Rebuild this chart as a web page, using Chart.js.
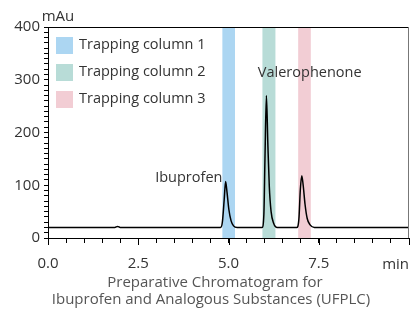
<!DOCTYPE html>
<html>
<head>
<meta charset="utf-8">
<script src="https://cdn.jsdelivr.net/npm/chart.js@4"></script>
<style>
  html, body { margin: 0; padding: 0; background: #fff; }
  #wrap { width: 411px; height: 311px; }
</style>
</head>
<body>
<div id="wrap"><canvas id="chart" width="411" height="311"></canvas></div>
<script>
/* ---- data ---- */
const times = [0, 1.85, 1.93, 2.0, 4.78, 4.83, 4.88, 4.92, 4.96, 5.01, 5.07, 5.14, 5.24, 5.93, 5.98, 6.01, 6.05, 6.09, 6.13, 6.18, 6.25, 6.35, 6.89, 6.95, 6.99, 7.03, 7.07, 7.12, 7.18, 7.26, 7.38, 10];
const mAu   = [20, 20, 22, 20, 20, 30, 72, 107, 86, 54, 33, 23, 20, 20, 45, 150, 270, 178, 98, 50, 28, 20, 20, 36, 92, 118, 99, 64, 37, 25, 20, 20];

const bandLabels = ["Trapping column 1", "Trapping column 2", "Trapping column 3"];
const bandStart  = [4.83, 5.94, 6.93];
const bandEnd    = [5.18, 6.30, 7.28];
const bandColors = ["#acd6f2", "#b8dcd7", "#f2cdd4"];

const peakNames = ["Ibuprofen", "Valerophenone"];
const peakLabelX = [3.9, 7.25];
const peakLabelY = [114, 313];

const xTitle = ["Preparative Chromatogram for", "Ibuprofen and Analogous Substances (UFPLC)"];

const FONT = "'Open Sans', 'Noto Sans', sans-serif";

/* ---- extra drawing: bands, legend, labels, frame ---- */
const decor = {
  id: "decor",
  beforeDatasetsDraw(chart) {
    const { ctx, chartArea: a, scales: { x } } = chart;
    ctx.save();
    bandStart.forEach((s, i) => {
      const x0 = x.getPixelForValue(s);
      const x1 = x.getPixelForValue(bandEnd[i]);
      ctx.fillStyle = bandColors[i];
      ctx.fillRect(x0, a.top, x1 - x0, a.bottom - a.top);
    });
    ctx.restore();
  },
  afterDraw(chart) {
    const { ctx, chartArea: a, scales: { x, y } } = chart;
    ctx.save();
    // frame top + right
    ctx.strokeStyle = "#000";
    ctx.lineWidth = 1;
    ctx.beginPath();
    ctx.moveTo(a.left, a.top + 0.5);
    ctx.lineTo(a.right, a.top + 0.5);
    ctx.stroke();
    ctx.strokeStyle = "#777";
    ctx.beginPath();
    ctx.moveTo(a.right - 0.5, a.top);
    ctx.lineTo(a.right - 0.5, a.bottom);
    ctx.stroke();

    // longer major ticks on x
    ctx.strokeStyle = "#000";
    x.ticks.forEach(t => {
      if (t.value % 2.5 !== 0) return;
      const px = Math.round(x.getPixelForValue(t.value)) + 0.5;
      ctx.beginPath();
      ctx.moveTo(px, a.bottom);
      ctx.lineTo(px, a.bottom + 7);
      ctx.stroke();
    });

    // legend
    ctx.font = "14.5px " + FONT;
    ctx.textBaseline = "middle";
    ctx.textAlign = "left";
    bandLabels.forEach((lab, i) => {
      const cy = a.top + 18 + i * 27;
      ctx.fillStyle = bandColors[i];
      ctx.fillRect(a.left + 8, cy - 8, 17, 17);
      ctx.fillStyle = "#333";
      ctx.fillText(lab, a.left + 31, cy);
    });

    // peak names
    ctx.textAlign = "center";
    peakNames.forEach((n, i) => {
      ctx.fillText(n, x.getPixelForValue(peakLabelX[i]), y.getPixelForValue(peakLabelY[i]));
    });

    // unit labels
    ctx.font = "15px " + FONT;
    ctx.fillText("mAu", a.left + 10, a.top - 10);
    ctx.textAlign = "right";
    ctx.fillText("min", a.right, 265);

    // axis title
    ctx.fillStyle = "#555";
    ctx.textAlign = "center";
    ctx.fillText(xTitle[0], 215, 283);
    ctx.fillText(xTitle[1], 211, 300);
    ctx.restore();
  }
};

new Chart(document.getElementById("chart"), {
  type: "line",
  data: {
    datasets: [{
      data: times.map((t, i) => ({ x: t, y: mAu[i] })),
      borderColor: "#000",
      borderWidth: 1.5,
      pointRadius: 0,
      cubicInterpolationMode: "monotone",
      fill: false
    }]
  },
  options: {
    responsive: false,
    animation: false,
    layout: { padding: { top: 27, right: 2, left: 0, bottom: 0 } },
    plugins: { legend: { display: false }, tooltip: { enabled: false } },
    scales: {
      x: {
        type: "linear",
        min: 0,
        max: 10,
        afterFit: s => { s.height = 73; s.paddingLeft = 0; s.paddingRight = 0; },
        border: { color: "#000", width: 1 },
        grid: { drawOnChartArea: false, tickLength: 5, tickColor: "#000" },
        ticks: {
          stepSize: 0.5,
          autoSkip: false,
          maxRotation: 0,
          padding: 12,
          color: "#333",
          font: { family: FONT, size: 15 },
          callback: v => (v % 2.5 === 0 && v < 10) ? v.toFixed(1) : ""
        }
      },
      y: {
        min: 0,
        max: 400,
        afterFit: s => { s.width = 48; },
        border: { color: "#000", width: 1 },
        grid: { drawOnChartArea: false, tickLength: 4, tickColor: "#000" },
        ticks: {
          stepSize: 10,
          autoSkip: false,
          padding: 4,
          color: "#333",
          font: { family: FONT, size: 15 },
          callback: v => v % 100 === 0 ? String(v) : ""
        }
      }
    }
  },
  plugins: [decor]
});
</script>
</body>
</html>
